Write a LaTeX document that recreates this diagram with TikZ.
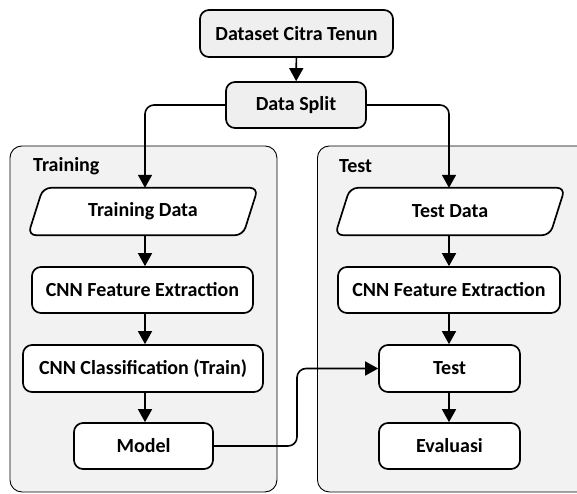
\documentclass[tikz,border=0pt]{standalone}
\usepackage{fontspec}
\setmainfont{Carlito}
\usetikzlibrary{arrows.meta,calc}
\definecolor{panel}{HTML}{F2F2F2}
\definecolor{topfill}{HTML}{EFEFEF}
\tikzset{
  box/.style={draw=black, line width=1.7pt, rounded corners=9pt, fill=white,
    minimum height=46pt, inner sep=0pt, font=\fontsize{20}{23}\selectfont\bfseries},
  topbox/.style={box, fill=topfill},
  iobox/.style={inner sep=0pt, minimum height=47pt, font=\fontsize{20}{23}\selectfont\bfseries},
  panelbox/.style={draw=black, line width=0.9pt, rounded corners=12pt, fill=panel},
  paneltitle/.style={anchor=west, inner sep=0pt, font=\fontsize{20}{23}\selectfont\bfseries},
  flow/.style={line width=1.6pt, -{Triangle[length=13pt,width=14pt]}},
  link/.style={flow, rounded corners=9pt},
  para/.style={draw=black, line width=1.7pt, fill=white, rounded corners=8pt}
}
\begin{document}
\begin{tikzpicture}[x=1pt,y=-1pt]
\useasboundingbox (0,0) rectangle (577,493);
\begin{scope}
\clip (0,0) rectangle (577,493);
% panels
\node[panelbox, minimum width=267pt, minimum height=346pt, anchor=north west, inner sep=0pt] (ptrain) at (9.5,145.5) {};
\node[panelbox, minimum width=275pt, minimum height=346pt, anchor=north west, inner sep=0pt] (ptest) at (317,145.5) {};
\end{scope}
\node[paneltitle] (ttrain) at (33,166) {Training};
\node[paneltitle] (ttest) at (339,166) {Test};
% top
\node[topbox, minimum width=193pt, minimum height=47pt] (ds) at (296.5,33.5) {Dataset Citra Tenun};
\node[topbox, minimum width=140pt, minimum height=46pt] (split) at (296,105) {Data Split};
% training column
\node[iobox, minimum width=200pt] (tdata) at (143,211.5) {Training Data};
\draw[para] ($(tdata.north)+(-100,0)$) -- ($(tdata.north)+(115,0)$) -- ($(tdata.south)+(100,0)$) -- ($(tdata.south)+(-115,0)$) -- cycle;
\node[iobox] at (tdata) {Training Data};
\node[box, minimum width=221pt] (fe1) at (142.5,290) {CNN Feature Extraction};
\node[box, minimum width=240pt, minimum height=47pt] (cls) at (143,368.5) {CNN Classification (Train)};
\node[box, minimum width=139pt] (model) at (143.5,446) {Model};
% test column
\node[iobox, minimum width=200pt] (xdata) at (450,211.5) {Test Data};
\draw[para] ($(xdata.north)+(-100,0)$) -- ($(xdata.north)+(115,0)$) -- ($(xdata.south)+(100,0)$) -- ($(xdata.south)+(-115,0)$) -- cycle;
\node[iobox] at (xdata) {Test Data};
\node[box, minimum width=222pt] (fe2) at (449,290) {CNN Feature Extraction};
\node[box, minimum width=141pt, minimum height=47pt] (test) at (449.5,368.5) {Test};
\node[box, minimum width=141pt] (eval) at (449.5,446) {Evaluasi};
% connectors
\draw[flow] (ds) -- (split);
\draw[link] (split.west) -| (tdata.north -| 145,0);
\draw[link] (split.east) -| (xdata.north -| 449,0);
\draw[flow] (tdata.south -| 145,0) -- (fe1.north -| 145,0);
\draw[flow] (fe1.south -| 145,0) -- (cls.north -| 145,0);
\draw[flow] (cls.south -| 145,0) -- (model.north -| 145,0);
\draw[flow] (xdata.south -| 449,0) -- (fe2.north -| 449,0);
\draw[flow] (fe2.south -| 449,0) -- (test.north -| 449,0);
\draw[flow] (test.south -| 449,0) -- (eval.north -| 449,0);
\draw[link] (model.east) -| (297,400) |- (test.west);
\end{tikzpicture}
\end{document}
